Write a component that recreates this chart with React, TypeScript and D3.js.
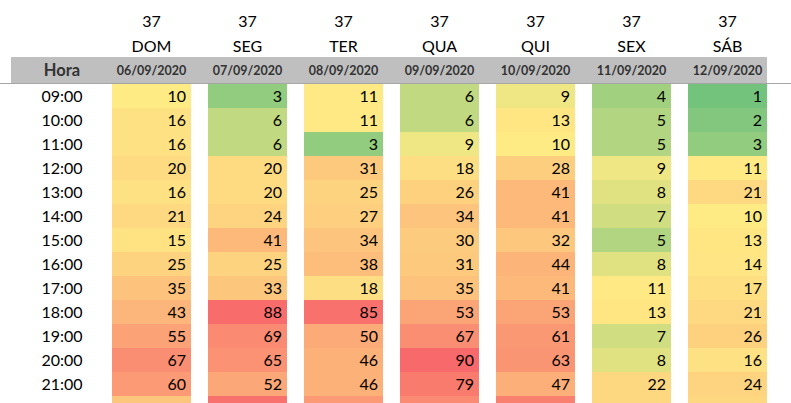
import React from "react";
import * as d3 from "d3";

const hours = ["09:00","10:00","11:00","12:00","13:00","14:00","15:00","16:00","17:00","18:00","19:00","20:00","21:00","22:00"];
const weekNums = ["37","37","37","37","37","37","37"];
const dayNames = ["DOM","SEG","TER","QUA","QUI","SEX","SÁB"];
const dates = ["06/09/2020","07/09/2020","08/09/2020","09/09/2020","10/09/2020","11/09/2020","12/09/2020"];

const dom = [10,16,16,20,16,21,15,25,35,43,55,67,60,33];
const seg = [3,6,6,20,20,24,41,25,33,88,69,65,52,85];
const ter = [11,11,3,31,25,27,34,38,18,85,50,46,46,60];
const qua = [6,6,9,18,26,34,30,31,35,53,67,90,79,70];
const qui = [9,13,10,28,41,41,32,44,41,53,61,63,47,76];
const sex = [4,5,5,9,8,7,5,8,11,13,7,8,22,22];
const sab = [1,2,3,11,21,10,13,14,17,21,26,16,24,22];

const series = [dom, seg, ter, qua, qui, sex, sab];

const W = 791, H = 403;
const FONT = "Lato, 'Noto Sans', sans-serif";

export default function App() {
  const cellW = 79;
  const colX = (i: number) => 112 + i * 96;
  const y = d3.scaleBand<number>().domain(d3.range(hours.length)).range([84, 84 + 24 * hours.length]);
  const color = d3.scaleLinear<string>().domain([0, 10, 90]).range(["#63BE7B", "#FFEB84", "#F8696B"]).interpolate(d3.interpolateRgb).clamp(true);
  const textVisible = (r: number) => (y(r) as number) + 18 <= H;
  return (
    <svg width={W} height={H} style={{ position: "absolute", left: 0, top: 0, background: "#fff" }} fontFamily={FONT}>
      <rect x={0} y={0} width={W} height={H} fill="#fff" />
      <rect x={11} y={57} width={756} height={26} fill="#bfbfbf" />
      <line x1={0} x2={W} y1={83.5} y2={83.5} stroke="#a6a6a6" strokeWidth={1} />
      <text x={62} y={76} textAnchor="middle" fontSize={16.5} fontWeight={700} fill="#333">Hora</text>
      {dayNames.map((d, i) => {
        const cx = colX(i) + cellW / 2;
        return (
          <g key={d}>
            <text x={cx} y={27} textAnchor="middle" fontSize={16} fill="#000">{weekNums[i]}</text>
            <text x={cx} y={52} textAnchor="middle" fontSize={16} fill="#000">{d}</text>
            <text x={cx} y={75} textAnchor="middle" fontSize={12.5} fontWeight={700} fill="#333">{dates[i]}</text>
          </g>
        );
      })}
      {hours.map((h, r) => textVisible(r) ? (
        <text key={h} x={62} y={(y(r) as number) + 18} textAnchor="middle" fontSize={16} fill="#000">{h}</text>
      ) : null)}
      {series.map((vals, i) => (
        <g key={i}>
          {vals.map((v, r) => (
            <g key={r}>
              <rect x={colX(i)} y={y(r)} width={cellW} height={y.bandwidth()} fill={color(v)} />
              {textVisible(r) ? (
                <text x={colX(i) + cellW - 5} y={(y(r) as number) + 18} textAnchor="end" fontSize={16} fill="#000">{v}</text>
              ) : null}
            </g>
          ))}
        </g>
      ))}
    </svg>
  );
}
